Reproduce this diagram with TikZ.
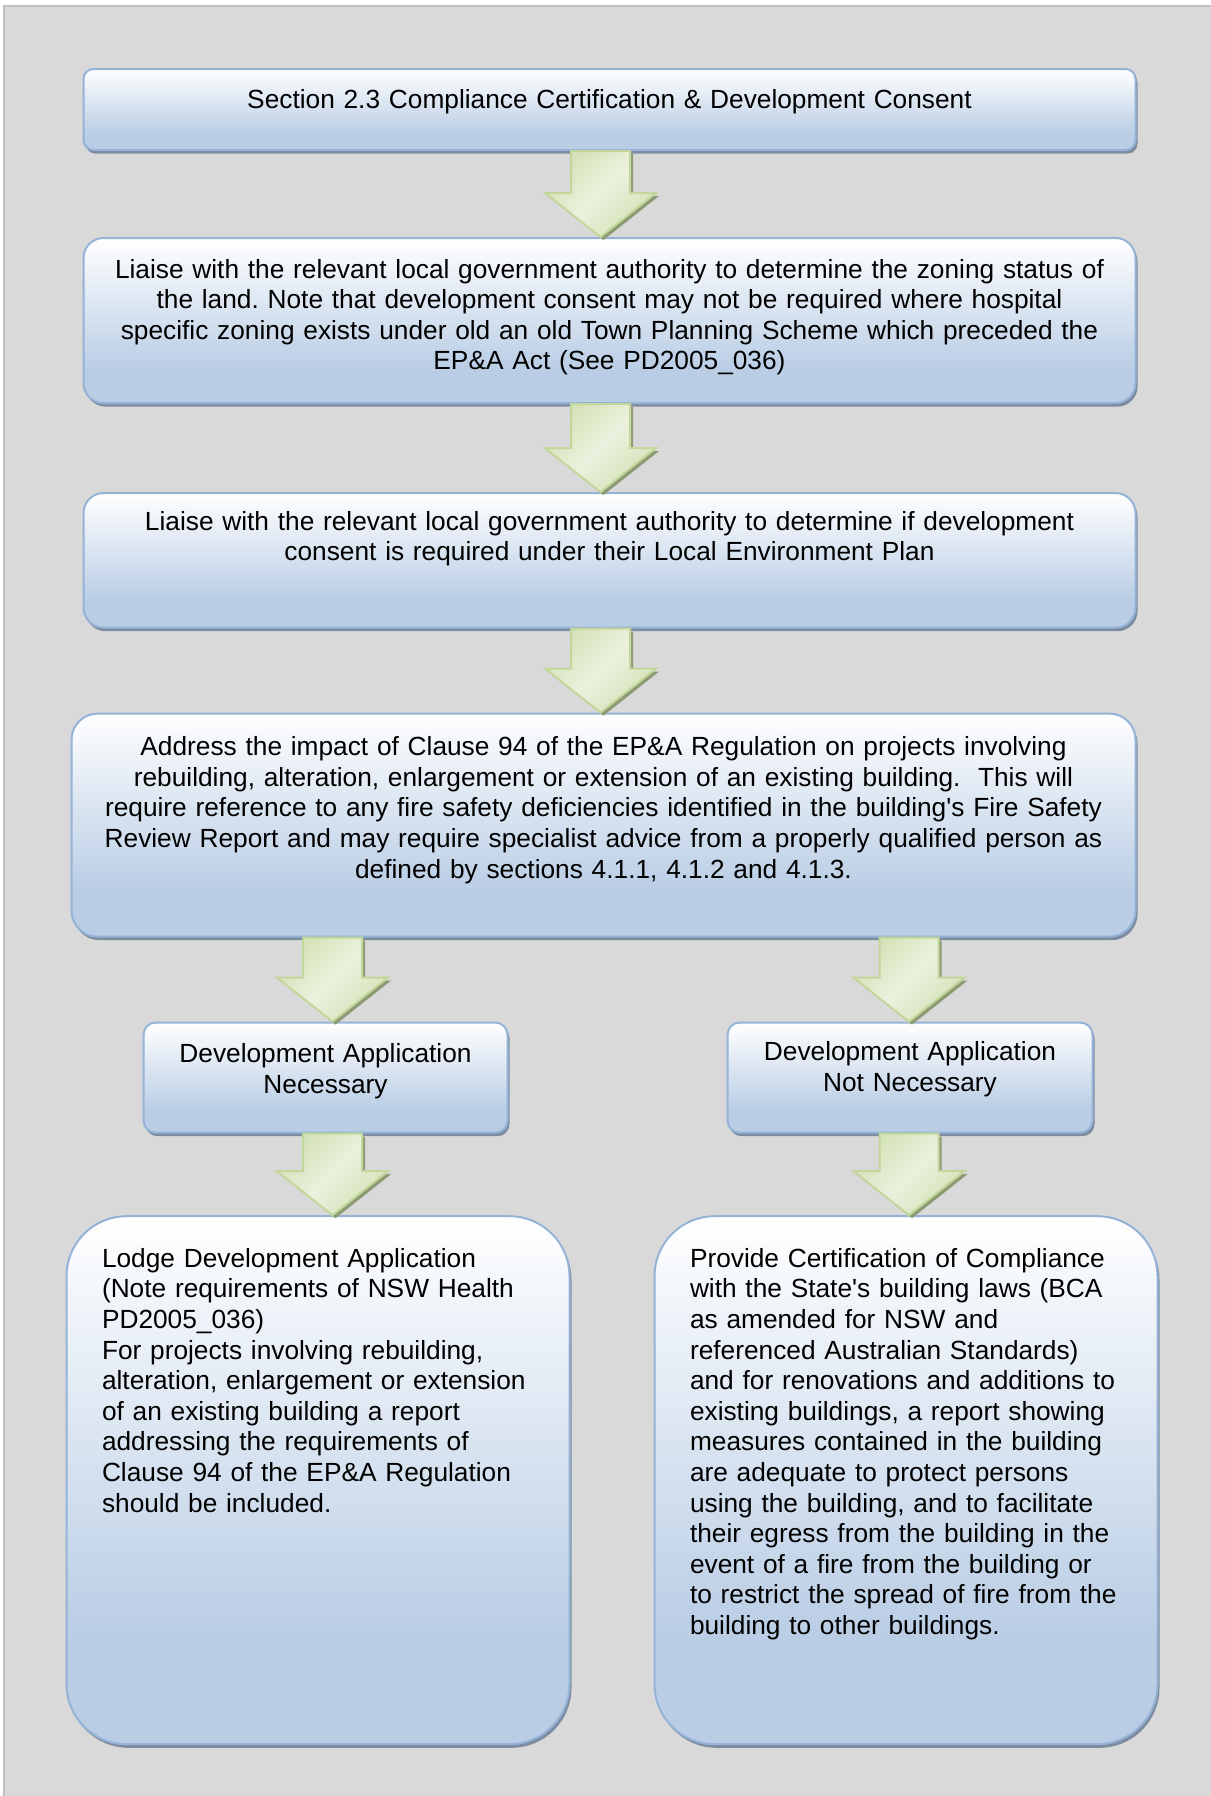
\documentclass[tikz,border=0pt]{standalone}
\usepackage{fontspec}
\setmainfont{Liberation Sans}[Ligatures=TeXOff]
\usetikzlibrary{positioning,shadows}
\frenchspacing

\definecolor{pagegray}{HTML}{D9D9D9}
\definecolor{framegray}{HTML}{BFBFBF}
\definecolor{boxblue}{HTML}{B9CDE5}
\definecolor{boxedge}{HTML}{95B3D7}
\definecolor{boxshade}{HTML}{7D8CA0}
\definecolor{arrowedge}{HTML}{C3D69B}
\definecolor{arrowfill}{HTML}{D3E2B6}
\definecolor{arrowlight}{HTML}{EBF1DE}
\definecolor{arrowshade}{HTML}{8C9B73}

\pgfdeclareverticalshading{boxfade}{100bp}{color(0bp)=(boxblue); color(35bp)=(boxblue); color(75bp)=(white); color(100bp)=(white)}

\tikzset{
    bluebox/.style={draw=boxedge, line width=1pt, shade, shading=boxfade, align=center,
        font=\fontsize{13.14}{15.3}\selectfont, inner xsep=10pt, inner ysep=0pt,
        drop shadow={shadow xshift=1pt, shadow yshift=-1.8pt, fill=boxshade, opacity=1}},
    greenarrow/.style={draw=arrowedge, line width=1pt, left color=arrowfill, right color=arrowfill,
        middle color=arrowlight, shading angle=45,
        drop shadow={shadow xshift=1.5pt, shadow yshift=-1.5pt, fill=arrowshade, opacity=1}},
}

\newcommand{\fatarrow}[3]{%
    \coordinate (arrtop) at (#2.south -| #1);
    \coordinate (arrtip) at (#3.north -| #1);
    \path[greenarrow] ([xshift=-14.75pt]arrtop) -- ([xshift=-14.75pt,yshift=22pt]arrtip)
        -- ([xshift=-27.75pt,yshift=22pt]arrtip) -- (arrtip) -- ([xshift=27.75pt,yshift=22pt]arrtip)
        -- ([xshift=14.75pt,yshift=22pt]arrtip) -- ([xshift=14.75pt]arrtop) -- cycle;
}

\begin{document}
\begin{tikzpicture}[x=0.5pt, y=-0.5pt]
    \useasboundingbox (0,0) rectangle (1211,1796);
    \fill[pagegray] (4,6) rectangle (1211,1796);
    \draw[framegray, line width=1pt] (4,1796) -- (4,6) -- (1211,6);

    \coordinate (colmid) at (600.5,0);
    \coordinate (colleft) at (332.5,0);
    \coordinate (colright) at (909,0);

    \node[bluebox, rounded corners=5pt, text width=506pt, text height=19.5pt, text depth=21pt,
        anchor=north west] (section) at (82.5,68)
        {Section 2.3 Compliance Certification \& Development Consent};
    \node[bluebox, rounded corners=10pt, text width=506pt, text height=20pt, text depth=62.5pt,
        below=43pt of section] (zoning)
        {Liaise with the relevant local government authority to determine the zoning status of\\
        the land. Note that development consent may not be required where hospital\\
        specific zoning exists under old an old Town Planning Scheme which preceded the\\
        EP\&A Act (See PD2005\_036)};
    \node[bluebox, rounded corners=10pt, text width=506pt, text height=18.5pt, text depth=48.8pt,
        below=44pt of zoning] (lep)
        {Liaise with the relevant local government authority to determine if development\\
        consent is required under their Local Environment Plan};
    \node[bluebox, rounded corners=13pt, text width=512pt, text height=21pt, text depth=90.5pt,
        below=42pt of lep.south east, anchor=north east] (clause)
        {Address the impact of Clause 94 of the EP\&A Regulation on projects involving\\
        rebuilding, alteration, enlargement or extension of an existing building.~ This will\\
        require reference to any fire safety deficiencies identified in the building's Fire Safety\\
        Review Report and may require specialist advice from a properly qualified person as\\
        defined by sections 4.1.1, 4.1.2 and 4.1.3.};
    \node[bluebox, rounded corners=6pt, text width=162pt, text height=20pt, text depth=35pt,
        below=42pt of clause.south west, anchor=north west, xshift=36pt] (danec)
        {Development Application\\ Necessary};
    \node[bluebox, rounded corners=6pt, text width=162.5pt, text height=19pt, text depth=36pt,
        right=109pt of danec] (danot)
        {Development Application\\ Not Necessary};
    \node[bluebox, rounded corners=30pt, text width=216pt, inner xsep=17.75pt, align=left,
        text height=25.5pt, text depth=238.5pt,
        below=40.8pt of danec.south west, anchor=north west, xshift=-38.5pt] (lodge)
        {Lodge Development Application\\
        (Note requirements of NSW Health\\
        PD2005\_036)\\
        For projects involving rebuilding,\\
        alteration, enlargement or extension\\
        of an existing building a report\\
        addressing the requirements of\\
        Clause 94 of the EP\&A Regulation\\
        should be included.};
    \node[bluebox, rounded corners=30pt, text width=216pt, inner xsep=17.75pt, align=left,
        text height=25.5pt, text depth=238.5pt,
        right=41.5pt of lodge] (certify)
        {Provide Certification of Compliance\\
        with the State's building laws (BCA\\
        as amended for NSW and\\
        referenced Australian Standards)\\
        and for renovations and additions to\\
        existing buildings, a report showing\\
        measures contained in the building\\
        are adequate to protect persons\\
        using the building, and to facilitate\\
        their egress from the building in the\\
        event of a fire from the building or\\
        to restrict the spread of fire from the\\
        building to other buildings.};

    \fatarrow{colmid}{section}{zoning}
    \fatarrow{colmid}{zoning}{lep}
    \fatarrow{colmid}{lep}{clause}
    \fatarrow{colleft}{clause}{danec}
    \fatarrow{colright}{clause}{danot}
    \fatarrow{colleft}{danec}{lodge}
    \fatarrow{colright}{danot}{certify}
\end{tikzpicture}
\end{document}
